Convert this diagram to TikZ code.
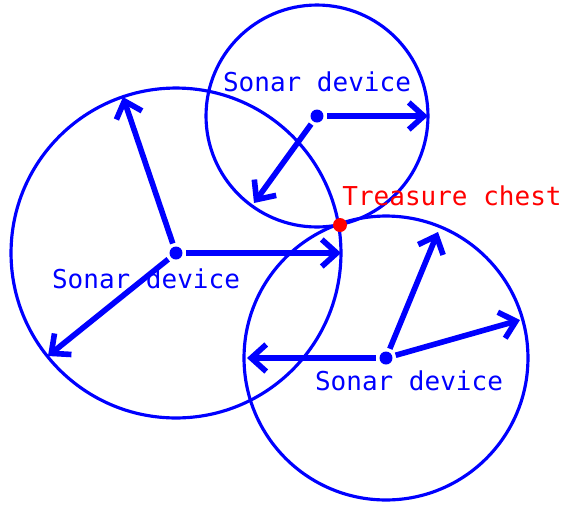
\documentclass[tikz,border=0pt]{standalone}
\usepackage{fontspec}
\newfontfamily\sonarfont{DejaVu Sans Mono}
\usetikzlibrary{arrows.meta}
\begin{document}
\begin{tikzpicture}[x=0.02cm, y=-0.02cm,
        reach/.style={draw=blue, line width=1.8pt},
        device/.style={circle, fill=blue, inner sep=0pt, minimum size=0.26cm, outer sep=2pt},
        chest/.style={circle, fill=red, inner sep=0pt, minimum size=0.28cm},
        devtext/.style={text=blue, font=\sonarfont\fontsize{14.8}{16}\selectfont},
        line/.style={draw=blue, line width=3.2pt, -{Straight Barb[length=3mm, width=5.4mm]}}
    ]
        \useasboundingbox (0,0) rectangle (566,505);

        \node[device] (top) at (317,116) {};
        \node[device] (left) at (176,253) {};
        \node[device] (bottom) at (386,358) {};

        \draw[reach] (top) circle (2.22cm);
        \draw[reach] (left) circle (3.3cm);
        \draw[reach] (bottom) circle (2.84cm);

        \node[devtext] (top-text) at (317,82) {Sonar device};
        \node[devtext] (left-text) at (146,279) {Sonar device};
        \node[devtext] (bottom-text) at (409,381) {Sonar device};
        \node[text=red, font=\sonarfont\fontsize{14.8}{16}\selectfont] (chest-text) at (452,196) {Treasure chest};

        \coordinate (top-e) at (428,116);
        \coordinate (top-sw) at (254,203);
        \coordinate (left-n) at (123,97);
        \coordinate (left-e) at (341,253);
        \coordinate (left-sw) at (48,356);
        \coordinate (bottom-w) at (247,358);
        \coordinate (bottom-n) at (438,232);
        \coordinate (bottom-e) at (520,320);

        \draw[line] (top) -- (top-e);
        \draw[line] (top) -- (top-sw);
        \draw[line] (left) -- (left-n);
        \draw[line] (left) -- (left-e);
        \draw[line] (left) -- (left-sw);
        \draw[line] (bottom) -- (bottom-w);
        \draw[line] (bottom) -- (bottom-n);
        \draw[line] (bottom) -- (bottom-e);

        \node[chest] (treasure) at (340,225) {};
    \end{tikzpicture}
\end{document}
